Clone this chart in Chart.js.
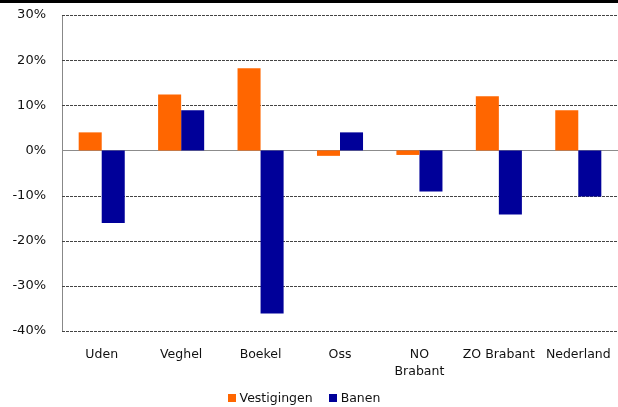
<!DOCTYPE html>
<html>
<head>
<meta charset="utf-8">
<script src="https://cdn.jsdelivr.net/npm/chart.js@4"></script>
<style>
  html, body { margin: 0; padding: 0; background: #fff; overflow: hidden; }
  .top-rule { height: 3px; background: #000; width: 618px; }
  .wrap { position: relative; width: 618px; height: 404px; }
  canvas { display: block; }
  .legend {
    position: absolute; left: 0; right: 0; top: 387px;
    display: flex; justify-content: center; align-items: center;
    font: 12.5px "DejaVu Sans", Verdana, sans-serif; color: #111;
    padding-left: 6px;
  }
  .legend span { display: inline-flex; align-items: center; margin-right: 16px; }
  .legend i { display: inline-block; width: 8px; height: 8px; margin-right: 4px; }
</style>
</head>
<body>
<div class="top-rule"></div>
<div class="wrap">
  <canvas id="chart" width="618" height="404"></canvas>
  <div class="legend" id="legend"></div>
</div>
<script>
const categories = ['Uden', 'Veghel', 'Boekel', 'Oss', ['NO', 'Brabant'], 'ZO Brabant', 'Nederland'];
const vestigingen = [4, 12.4, 18.2, -1.2, -1, 12, 8.9];
const banen = [-16.1, 8.9, -36.1, 4, -9.1, -14.2, -10.2];
const yTicks = [30, 20, 10, 0, -10, -20, -30, -40];
const seriesNames = ['Vestigingen', 'Banen'];
const seriesColors = ['#FF6600', '#000099'];

// dashed gridlines, solid grey zero line
const gridPlugin = {
    id: 'gridLines',
    beforeDatasetsDraw(chart) {
        const ctx = chart.ctx;
        const y = chart.scales.y;
        const area = chart.chartArea;
        ctx.save();
        yTicks.forEach(v => {
            const py = Math.round(y.getPixelForValue(v)) + 0.5;
            ctx.beginPath();
            if (v === 0) {
                ctx.setLineDash([]);
                ctx.strokeStyle = '#8c8c8c';
            } else {
                ctx.setLineDash([3, 1]);
                ctx.strokeStyle = '#444444';
            }
            ctx.lineWidth = 1;
            ctx.moveTo(area.left, py);
            ctx.lineTo(area.right, py);
            ctx.stroke();
        });
        ctx.restore();
    }
};

Chart.defaults.font.family = '"DejaVu Sans", Verdana, sans-serif';
Chart.defaults.font.size = 12.5;
Chart.defaults.color = '#111';

new Chart(document.getElementById('chart').getContext('2d'), {
    type: 'bar',
    data: {
        labels: categories,
        datasets: seriesNames.map((name, i) => ({
            label: name,
            data: i === 0 ? vestigingen : banen,
            backgroundColor: seriesColors[i],
            borderWidth: 0
        }))
    },
    options: {
        responsive: false,
        animation: false,
        layout: { padding: { top: 12, right: 0, left: 0, bottom: 0 } },
        datasets: {
            bar: { categoryPercentage: 0.58, barPercentage: 1 }
        },
        plugins: {
            legend: { display: false },
            tooltip: { enabled: false }
        },
        scales: {
            x: {
                afterFit: scale => {
                    scale.height = 76;
                    scale.paddingLeft = 0;
                    scale.paddingRight = 0;
                },
                grid: { display: false, drawTicks: false },
                border: { display: false },
                ticks: { padding: 15, maxRotation: 0, autoSkip: false, font: { size: 12.5, lineHeight: 1.35 } }
            },
            y: {
                min: -40,
                max: 30,
                afterFit: scale => {
                    scale.width = 62;
                    scale.paddingTop = 0;
                    scale.paddingBottom = 0;
                },
                grid: { display: false, drawTicks: false },
                border: { display: true, color: '#888888', width: 1 },
                ticks: {
                    stepSize: 10,
                    padding: 16,
                    font: { size: 13 },
                    callback: v => v + '%'
                }
            }
        }
    },
    plugins: [gridPlugin]
});

// simple html legend
document.getElementById('legend').innerHTML = seriesNames.map((name, i) =>
    '<span><i style="background:' + seriesColors[i] + '"></i>' + name + '</span>'
).join('');
</script>
</body>
</html>
